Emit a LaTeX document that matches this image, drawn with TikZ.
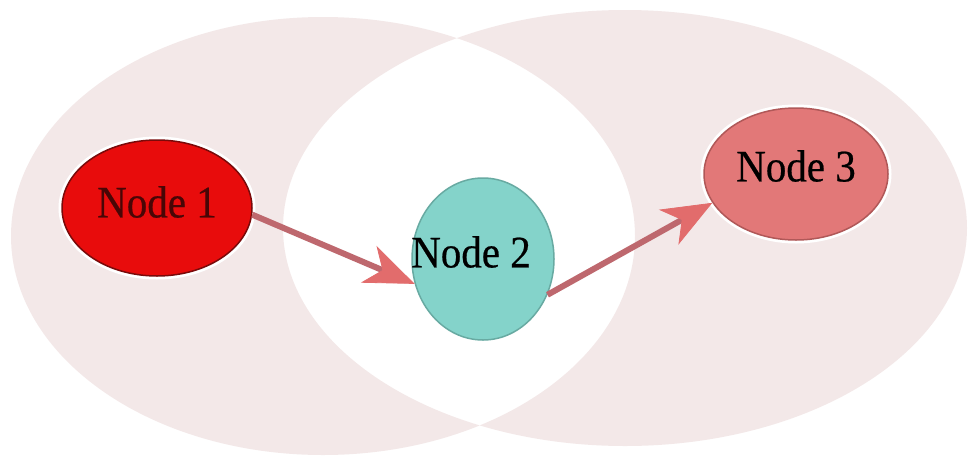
\documentclass[tikz,border=0pt]{standalone}
\usepackage{fontspec}
\setmainfont{Liberation Serif}
\newfontfamily\capfont{Liberation Serif}[FakeBold=0.5]
\usetikzlibrary{shapes.geometric,arrows.meta}

\definecolor{haze}{RGB}{243,232,232}
\definecolor{redfill}{RGB}{232,12,12}
\definecolor{redline}{RGB}{122,10,10}
\definecolor{tealfill}{RGB}{132,211,202}
\definecolor{tealline}{RGB}{104,170,162}
\definecolor{rosefill}{RGB}{226,120,120}
\definecolor{roseline}{RGB}{176,88,88}
\definecolor{shaftcol}{RGB}{190,104,110}
\definecolor{headcol}{RGB}{226,108,108}

\newcommand{\tallword}[1]{\scalebox{1}[1.1]{#1}}

\tikzset{
  blob/.style={ellipse, inner sep=0pt, line width=1.5pt,
    preaction={draw=white, line width=7pt}},
  caption/.style={font=\capfont\fontsize{41}{41}\selectfont},
  link/.style={draw=shaftcol, line width=6pt,
    -{Stealth[length=50pt, width=40pt, inset=15pt, line width=0.8pt,
              color=headcol, fill=headcol]}}
}

\begin{document}
\begin{tikzpicture}[x=1pt, y=-1pt]
  \useasboundingbox (0,0) rectangle (977,464);
  \fill[white] (0,0) rectangle (977,464);

  % two overlapping sets, common part left blank
  \fill[haze, even odd rule]
    (323,236) ellipse [x radius=312, y radius=219]
    (625,228) ellipse [x radius=342, y radius=218];

  \node[blob, draw=redline, fill=redfill, minimum width=190pt, minimum height=136pt,
        label={[caption, text=redline!60!black, yshift=6pt]center:\tallword{Node 1}}]
        (n1) at (157,208) {};
  \node[blob, draw=tealline, fill=tealfill, minimum width=142pt, minimum height=162pt,
        preaction={draw=none},
        label={[caption, xshift=-12pt, yshift=7pt]center:\tallword{Node 2}}]
        (n2) at (483,259) {};
  \node[blob, draw=roseline, fill=rosefill, minimum width=184pt, minimum height=132pt,
        label={[caption, yshift=8pt]center:\tallword{Node 3}}]
        (n3) at (796,174) {};

  \draw[link] (n1.-4) -- (n2.200);
  \draw[link] (n2.-29) -- (n3.-161);
\end{tikzpicture}
\end{document}
